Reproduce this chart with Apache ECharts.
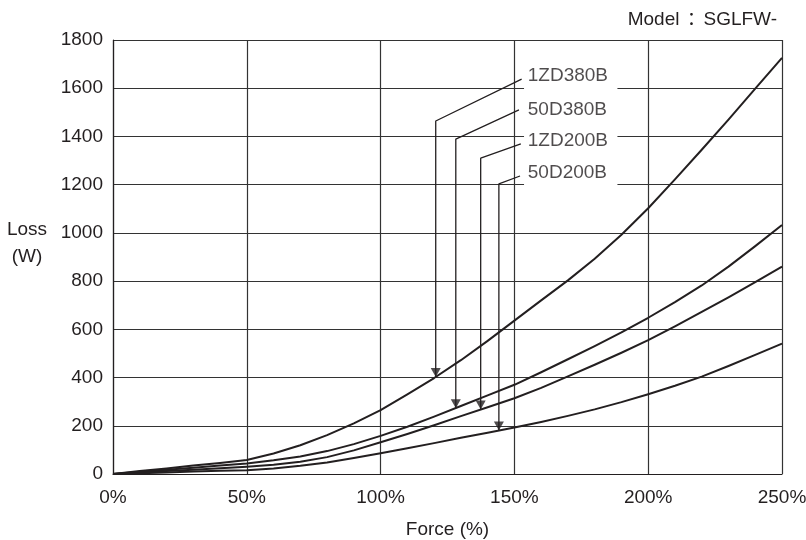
<!DOCTYPE html>
<html><head><meta charset="utf-8">
<script src="https://cdn.jsdelivr.net/npm/echarts@6/dist/echarts.min.js"></script>
<style>html,body{margin:0;padding:0;background:#fff}#c{width:806px;height:540px}</style>
</head><body><div id="c"></div>
<script>
// ---- data ----
const forcePct = [0,10,20,30,40,50,60,70,80,90,100,110,120,130,140,150,160,170,180,190,200,210,220,230,240,250];
const loss1ZD380B = [0,12,23,35,46,58,85,119,161,210,265,330,398,472,552,636,720,803,893,992,1102,1222,1345,1470,1598,1726];
const loss50D380B = [0,9,18,26,35,44,57,73,95,124,158,196,238,282,326,370,422,476,530,587,648,713,782,860,945,1033];
const loss1ZD200B = [0,6,12,18,24,30,38,51,70,98,132,166,202,240,277,314,357,405,453,503,555,612,672,733,796,860];
const loss50D200B = [0,3,6,10,13,16,23,34,48,66,86,107,128,150,171,193,216,241,268,298,331,366,404,448,494,541];
const seriesNames = ['1ZD380B','50D380B','1ZD200B','50D200B'];
// leader lines (data units): start x, start y, bend x, bend y, arrow tip y
const leaderStartX = [152.7,151.7,152.4,152.1];
const leaderStartY = [1638,1510,1369,1236];
const leaderBendX  = [120.6,128.1,137.4,144.2];
const leaderBendY  = [1464,1389,1310,1203];
const arrowTipY    = [402,273,267,180];
const labelX = 155;
const labelY = [1652,1510,1383,1248];
const xTicks = {min:0,max:250,step:50};
const yTicks = {min:0,max:1800,step:200};

const FONT = "'Liberation Sans', Arial, sans-serif";
const CJK = "'Noto Sans CJK TC', sans-serif";
const INK = '#231f20';
const FS = 19;
const allLoss = [loss1ZD380B, loss50D380B, loss1ZD200B, loss50D200B];

const series = [];
allLoss.forEach((arr,i)=>{
  series.push({
    type:'line', name:seriesNames[i], z:3,
    data: forcePct.map((x,k)=>[x,arr[k]]),
    showSymbol:false, symbol:'none', smooth:false,
    lineStyle:{color:INK,width:2,join:'round'}, silent:true
  });
});
seriesNames.forEach((n,i)=>{
  series.push({
    type:'line', z:4, silent:true, symbol:'none', showSymbol:false,
    data:[[leaderStartX[i],leaderStartY[i]],[leaderBendX[i],leaderBendY[i]],[leaderBendX[i],arrowTipY[i]]],
    lineStyle:{color:INK,width:1.3}
  });
});
series.push({
  type:'scatter', z:5, silent:true,
  data: leaderBendX.map((x,i)=>[x,arrowTipY[i]]),
  symbol:'triangle', symbolRotate:180, symbolSize:[10,9], symbolOffset:[0,-4.5],
  itemStyle:{color:INK}
});
series.push({
  type:'scatter', z:5, silent:true, symbolSize:0,
  data: seriesNames.map((n,i)=>({name:n,value:[labelX,labelY[i]]})),
  label:{show:true,position:'right',distance:0,formatter:p=>p.name,
    fontFamily:FONT,fontSize:FS,color:INK},
  markArea:{silent:true,itemStyle:{color:'#fff'},
    data:[[{coord:[153.6,1722]},{coord:[188.5,1188]}]]}
});

const chart = echarts.init(document.getElementById('c'),null,{renderer:'canvas'});
chart.setOption({
  animation:false,
  backgroundColor:'#fff',
  title:{text:'{a|Model}{b|：}{a|SGLFW-}',right:24,top:5,
    textStyle:{fontFamily:FONT,fontSize:FS,fontWeight:'normal',color:INK,
      rich:{a:{fontFamily:FONT,fontSize:FS,color:INK},
            b:{fontFamily:CJK,fontSize:FS-1,color:INK,padding:[0,3,0,3]}}}},
  grid:{left:113,right:24,top:40,bottom:66,containLabel:false,outerBoundsMode:'none'},
  graphic:[{type:'text',x:27,y:243.5,silent:true,
    style:{text:'Loss\n(W)',align:'center',verticalAlign:'middle',lineHeight:27,
      font:FS+'px '+FONT,fill:INK}}],
  xAxis:{type:'value',min:xTicks.min,max:xTicks.max,interval:xTicks.step,
    name:'Force (%)',nameLocation:'middle',nameGap:46,
    nameTextStyle:{fontFamily:FONT,fontSize:FS,color:INK},
    axisLine:{show:true,lineStyle:{color:INK,width:1.2}},
    axisTick:{show:false},
    axisLabel:{formatter:'{value}%',fontFamily:FONT,fontSize:FS,color:INK,margin:14},
    splitLine:{show:true,lineStyle:{color:'#333',width:1.2}}},
  yAxis:{type:'value',min:yTicks.min,max:yTicks.max,interval:yTicks.step,
    axisLine:{show:true,lineStyle:{color:INK,width:1.2}},
    axisTick:{show:false},
    axisLabel:{formatter:v=>String(v),fontFamily:FONT,fontSize:FS,color:INK,margin:10},
    splitLine:{show:true,lineStyle:{color:'#333',width:1.2}}},
  series:series
});
</script></body></html>
